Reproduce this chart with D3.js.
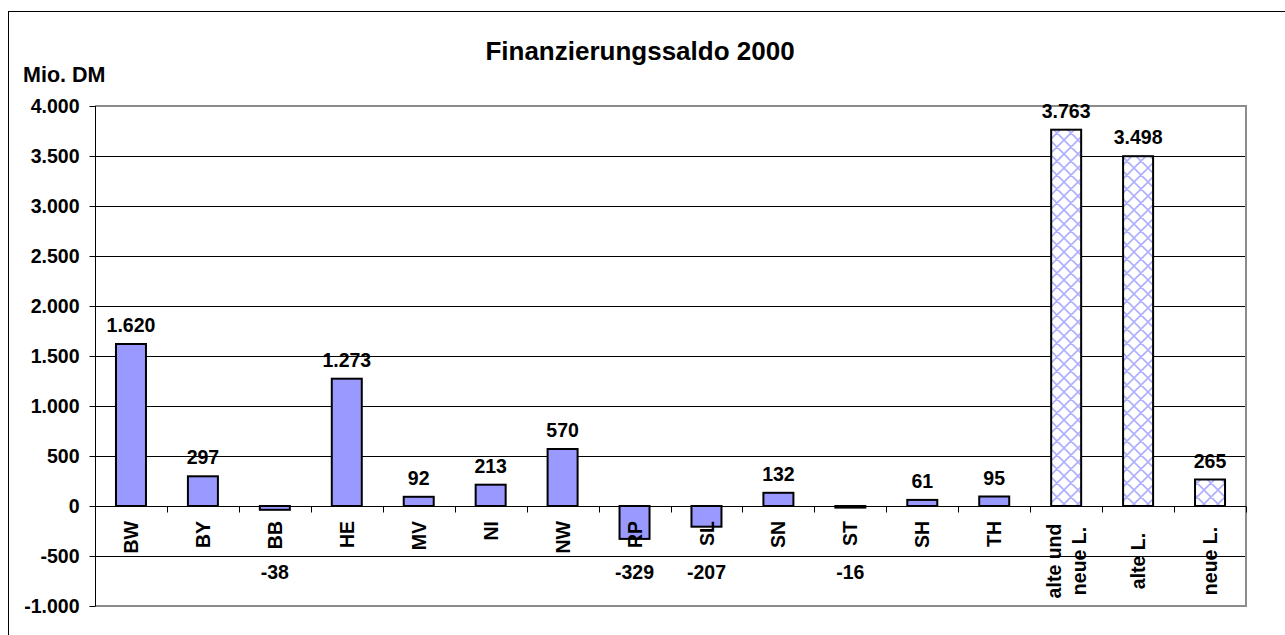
<!DOCTYPE html>
<html>
<head>
<meta charset="utf-8">
<script src="https://cdn.jsdelivr.net/npm/d3@7"></script>
<style>
  html, body { margin: 0; padding: 0; background: #fff; }
  svg { display: block; font-family: Arial, "Liberation Sans", sans-serif; }
</style>
</head>
<body>
<svg id="chart" width="1285" height="635"></svg>
<script>
const title = "Finanzierungssaldo 2000";
const unitLabel = "Mio. DM";
const categories = ["BW","BY","BB","HE","MV","NI","NW","RP","SL","SN","ST","SH","TH","alte und\nneue L.","alte L.","neue L."];
const values = [1620,297,-38,1273,92,213,570,-329,-207,132,-16,61,95,3763,3498,265];
const groups = ["Land","Land","Land","Land","Land","Land","Land","Land","Land","Land","Land","Land","Land","Summe","Summe","Summe"];
const yTicks = [-1000,-500,0,500,1000,1500,2000,2500,3000,3500,4000];

const locale = d3.formatLocale({decimal: ",", thousands: ".", grouping: [3], currency: ["", " DM"], minus: "-"});
const fmt = locale.format(",d");

const svg = d3.select("#chart");
const pLeft = 95, pRight = 1246, pTop = 106, pBottom = 606;

const x = d3.scaleBand().domain(d3.range(categories.length)).range([pLeft, pRight]).paddingInner(0).paddingOuter(0);
const y = d3.scaleLinear().domain([-1000, 4000]).range([pBottom, pTop]);
const barW = 30;

// defs: cross-hatch pattern
const defs = svg.append("defs");
const P = 14;
const pat = defs.append("pattern").attr("id","hatch").attr("patternUnits","userSpaceOnUse")
  .attr("width",P).attr("height",P);
pat.append("rect").attr("width",P).attr("height",P).attr("fill","#fff");
pat.append("path").attr("d",`M0,0 L${P},${P} M${P},0 L0,${P} M-1,${P-1} L1,${P+1} M${P-1},-1 L${P+1},1 M-1,1 L1,-1 M${P-1},${P+1} L${P+1},${P-1}`)
  .attr("stroke","#AFAFFF").attr("stroke-width",1.6);

// outer chart border
svg.append("rect").attr("x",8.5).attr("y",11.5).attr("width",1300).attr("height",640)
  .attr("fill","none").attr("stroke","#000").attr("stroke-width",1);

// gridlines
svg.append("g").selectAll("line").data(yTicks.filter(d => d !== 4000 && d !== -1000 && d !== 0)).join("line")
  .attr("x1",pLeft).attr("x2",pRight).attr("y1",d => Math.round(y(d))+0.5).attr("y2",d => Math.round(y(d))+0.5)
  .attr("stroke","#000").attr("stroke-width",1);

// plot area border (grey top, right, bottom)
svg.append("path").attr("d",`M${pLeft},${pTop} H${pRight} V${pBottom} H${pLeft}`)
  .attr("fill","none").attr("stroke","#8c8c8c").attr("stroke-width",2);

// y axis
const yAxis = d3.axisLeft(y).tickValues(yTicks).tickSize(6).tickPadding(10).tickFormat(d => fmt(d));
const gy = svg.append("g").attr("transform",`translate(${pLeft+0.5},0)`).call(yAxis);
gy.select(".domain").attr("stroke","#000").attr("d",`M0,${pTop}V${pBottom}`);
gy.selectAll(".tick line").attr("stroke","#000");
gy.selectAll(".tick text").attr("font-size","19.5px").attr("font-weight","bold").attr("fill","#000")
  .attr("font-family","Arial, 'Liberation Sans', sans-serif");

// bars
svg.append("g").selectAll("rect").data(values).join("rect")
  .attr("x",(d,i) => x(i) + x.bandwidth()/2 - barW/2)
  .attr("width",barW)
  .attr("y",d => y(Math.max(0,d)))
  .attr("height",d => Math.max(1, Math.abs(y(d) - y(0))))
  .attr("fill",(d,i) => groups[i] === "Summe" ? "url(#hatch)" : "#9999FF")
  .attr("stroke","#000").attr("stroke-width",2);

// zero axis with category ticks
const y0 = Math.round(y(0)) + 0.5;
svg.append("line").attr("x1",pLeft).attr("x2",pRight).attr("y1",y0).attr("y2",y0).attr("stroke","#000");
svg.append("g").selectAll("line").data(d3.range(1, categories.length+1)).join("line")
  .attr("x1",i => Math.round(pLeft + i*x.bandwidth())+0.5)
  .attr("x2",i => Math.round(pLeft + i*x.bandwidth())+0.5)
  .attr("y1",y0).attr("y2",y0+6).attr("stroke","#000");

// category labels (rotated)
const catG = svg.append("g");
categories.forEach((c,i) => {
  const lines = c.split("\n");
  const cx = x(i) + x.bandwidth()/2;
  const multiword = c.includes(" ") || lines.length > 1;
  const t = catG.append("text")
    .attr("transform",`translate(${cx},${multiword ? 561 : 521}) rotate(-90)`)
    .attr("text-anchor", multiword ? "middle" : "end")
    .attr("font-size","19.5px").attr("font-weight","bold").attr("fill","#000");
  lines.forEach((ln,k) => {
    t.append("tspan").attr("x",0)
      .attr("y", (k - (lines.length-1)/2) * 25)
      .attr("dy","0.36em").text(ln);
  });
});

// value labels
svg.append("g").selectAll("text").data(values).join("text")
  .attr("x",(d,i) => x(i) + x.bandwidth()/2)
  .attr("y",d => d >= 0 ? y(d) - 12 : 579)
  .attr("text-anchor","middle")
  .attr("font-size","19.5px").attr("font-weight","bold").attr("fill","#000")
  .text(d => fmt(d));

// title and unit
svg.append("text").attr("x",640).attr("y",60).attr("text-anchor","middle")
  .attr("font-size","26px").attr("font-weight","bold").text(title);
svg.append("text").attr("x",23).attr("y",82)
  .attr("font-size","21.5px").attr("font-weight","bold").text(unitLabel);
</script>
</body>
</html>
